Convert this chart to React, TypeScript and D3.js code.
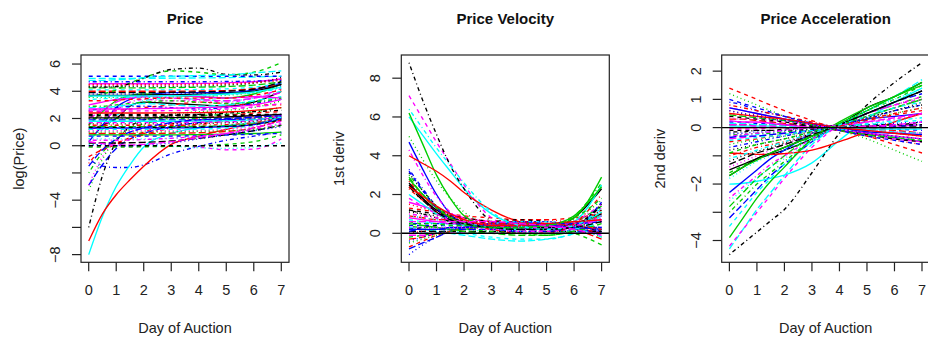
import React from "react";
import * as d3 from "d3";

// Sampling days shared by every curve
const dayGrid = [0, 0.5, 1, 1.5, 2, 3, 4, 5, 6, 7];
const dayTicks = [0, 1, 2, 3, 4, 5, 6, 7];

// log(Price) curves
const priceCurves: number[][] = [
  [1.2, 1.5, 2.0, 2.9, 3.2, 3.1, 3.0, 2.9, 3.2, 4.0],
  [2.5, 2.5, 2.6, 2.7, 2.8, 3.0, 3.2, 3.1, 3.0, 3.0],
  [-3.3, -1.0, 0.5, 1.3, 1.8, 2.3, 2.5, 2.6, 2.8, 3.3],
  [-1.0, -1.5, -1.6, -1.6, -1.4, -0.6, -0.05, 0.4, 0.7, 1.0],
  [4.95, 4.95, 4.95, 4.95, 4.95, 4.96, 4.98, 5.0, 5.05, 5.1],
  [4.55, 4.55, 4.55, 4.55, 4.55, 4.56, 4.58, 4.62, 4.7, 4.9],
  [2.3, 2.3, 2.3, 2.3, 2.3, 2.3, 2.3, 2.3, 2.3, 2.3],
  [4.45, 4.45, 4.45, 4.45, 4.45, 4.46, 4.48, 4.52, 4.6, 4.8],
  [-2.0, -0.5, 0.5, 1.2, 1.6, 2.0, 2.2, 2.3, 2.5, 2.8],
  [-2.9, -1.4, -0.2, 0.5, 0.9, 1.4, 1.7, 1.9, 2.1, 2.3],
  [-8.0, -5.2, -3.0, -1.4, -0.1, 0.9, 1.3, 1.5, 1.7, 1.9],
  [0.0, 0.0, 0.0, 0.0, 0.0, 0.0, -0.1, -0.3, -0.25, 0.5],
  [4.35, 4.35, 4.35, 4.35, 4.35, 4.36, 4.38, 4.45, 4.6, 5.0],
  [-1.3, -0.2, 0.2, 0.5, 0.8, 1.3, 1.6, 1.8, 2.0, 2.2],
  [4.25, 4.25, 4.25, 4.25, 4.25, 4.27, 4.3, 4.35, 4.45, 4.7],
  [0.3, 1.5, 2.8, 3.4, 3.7, 3.9, 3.9, 3.9, 4.1, 4.6],
  [4.1, 4.1, 4.1, 4.1, 4.1, 4.11, 4.13, 4.18, 4.3, 4.6],
  [-2.9, -0.8, 0.4, 1.0, 1.3, 1.6, 1.8, 2.0, 2.1, 2.2],
  [-6.0, -2.2, 0.3, 1.4, 1.9, 2.2, 2.3, 2.4, 2.5, 2.6],
  [4.0, 4.0, 4.0, 4.0, 4.0, 4.0, 4.02, 4.05, 4.2, 4.5],
  [1.5, 2.5, 3.3, 3.7, 3.8, 3.7, 3.6, 3.5, 3.8, 4.5],
  [5.1, 5.1, 5.1, 5.1, 5.1, 5.1, 5.1, 5.1, 5.1, 5.1],
  [0.1, 0.05, 0.0, 0.0, 0.0, -0.05, -0.15, -0.2, -0.1, 0.2],
  [1.0, 1.8, 2.6, 3.2, 3.4, 3.3, 3.3, 3.2, 3.5, 4.2],
  [3.9, 3.9, 3.9, 3.9, 3.9, 3.92, 3.95, 4.0, 4.15, 4.7],
  [-7.0, -5.0, -3.6, -2.5, -1.5, 0.1, 0.7, 1.2, 1.6, 2.0],
  [3.6, 3.8, 4.1, 4.6, 5.0, 5.5, 5.4, 5.2, 5.4, 6.1],
  [3.8, 3.8, 3.8, 3.8, 3.8, 3.81, 3.83, 3.88, 4.0, 4.4],
  [0.5, 1.2, 2.2, 2.9, 3.3, 3.5, 3.4, 3.3, 3.5, 4.0],
  [2.0, 2.6, 3.2, 3.5, 3.6, 3.5, 3.4, 3.3, 3.5, 3.9],
  [3.7, 3.7, 3.7, 3.7, 3.72, 3.75, 3.78, 3.85, 4.0, 4.5],
  [-0.8, -0.3, 0.1, 0.6, 1.0, 1.6, 2.0, 2.2, 2.4, 2.5],
  [3.55, 3.55, 3.55, 3.55, 3.56, 3.58, 3.62, 3.7, 3.9, 4.3],
  [2.6, 2.7, 2.8, 2.9, 2.9, 2.8, 2.7, 2.8, 3.1, 3.4],
  [2.8, 2.8, 2.9, 3.0, 3.1, 3.0, 2.9, 3.0, 3.3, 3.6],
  [3.0, 3.2, 3.4, 3.5, 3.6, 3.7, 3.6, 3.5, 3.6, 3.5],
  [2.2, 2.2, 2.2, 2.2, 2.2, 2.2, 2.2, 2.22, 2.25, 2.3],
  [2.1, 2.1, 2.1, 2.1, 2.1, 2.1, 2.1, 2.1, 2.12, 2.2],
  [2.0, 2.0, 2.0, 2.0, 2.0, 2.0, 2.0, 2.02, 2.05, 2.1],
  [1.9, 1.9, 1.9, 1.9, 1.9, 1.9, 1.9, 1.92, 1.95, 2.0],
  [1.8, 1.8, 1.8, 1.8, 1.8, 1.8, 1.81, 1.83, 1.9, 2.1],
  [1.7, 1.7, 1.7, 1.7, 1.7, 1.7, 1.72, 1.75, 1.85, 2.2],
  [1.6, 1.6, 1.6, 1.6, 1.6, 1.61, 1.63, 1.68, 1.8, 2.1],
  [1.5, 1.5, 1.5, 1.5, 1.5, 1.5, 1.52, 1.55, 1.7, 2.0],
  [1.4, 1.4, 1.4, 1.4, 1.4, 1.4, 1.42, 1.46, 1.6, 1.9],
  [1.3, 1.3, 1.3, 1.3, 1.3, 1.31, 1.33, 1.4, 1.55, 2.0],
  [1.2, 1.2, 1.2, 1.2, 1.2, 1.2, 1.22, 1.3, 1.5, 2.1],
  [1.1, 1.1, 1.1, 1.1, 1.1, 1.1, 1.12, 1.2, 1.4, 1.8],
  [4.3, 4.3, 4.35, 4.55, 4.95, 5.6, 5.7, 5.25, 5.2, 5.4],
  [0.9, 0.9, 0.9, 0.9, 0.9, 0.92, 0.95, 1.05, 1.3, 1.9],
  [0.8, 0.8, 0.8, 0.8, 0.8, 0.8, 0.82, 0.85, 0.9, 1.0],
  [0.7, 0.7, 0.7, 0.7, 0.7, 0.71, 0.73, 0.78, 0.85, 0.9],
  [0.5, 0.5, 0.5, 0.5, 0.5, 0.55, 0.65, 0.8, 1.1, 1.7],
  [0.4, 0.4, 0.4, 0.42, 0.45, 0.55, 0.7, 0.9, 1.2, 1.6],
  [0.2, 0.2, 0.2, 0.22, 0.25, 0.35, 0.55, 0.8, 1.1, 1.5],
  [2.4, 2.4, 2.4, 2.4, 2.4, 2.41, 2.43, 2.48, 2.6, 2.8],
  [-0.1, -0.1, -0.1, -0.1, -0.08, -0.05, 0.0, 0.1, 0.3, 0.8],
  [0.0, 0.1, 0.0, 0.0, 0.05, 0.2, 0.5, 0.8, 1.1, 1.4],
  [3.4, 3.45, 3.5, 3.55, 3.6, 3.65, 3.7, 3.75, 3.9, 4.2],
  [0.3, 0.15, 0.05, 0.05, 0.1, 0.3, 0.6, 0.9, 1.3, 1.8],
  [2.05, 2.05, 2.05, 2.05, 2.05, 2.06, 2.08, 2.12, 2.2, 2.3],
  [3.3, 3.3, 3.35, 3.4, 3.45, 3.5, 3.5, 3.5, 3.7, 4.1],
  [1.0, 1.0, 1.0, 1.0, 1.0, 1.02, 1.05, 1.1, 1.2, 1.5],
  [4.7, 4.7, 4.7, 4.7, 4.7, 4.7, 4.7, 4.72, 4.75, 4.8],
  [4.8, 4.8, 4.85, 4.9, 5.0, 5.1, 5.15, 5.2, 5.35, 5.5],
  [2.7, 2.7, 2.7, 2.7, 2.72, 2.75, 2.8, 2.85, 3.0, 3.4],
  [1.35, 1.35, 1.35, 1.35, 1.35, 1.36, 1.38, 1.42, 1.55, 1.9],
  [4.5, 4.5, 4.5, 4.5, 4.5, 4.5, 4.52, 4.56, 4.65, 4.9],
  [2.9, 2.9, 3.0, 3.1, 3.2, 3.3, 3.2, 3.1, 3.2, 3.5],
  [-1.5, -0.3, 0.5, 1.0, 1.3, 1.7, 1.9, 2.0, 2.1, 2.2],
  [3.65, 3.65, 3.65, 3.65, 3.66, 3.68, 3.72, 3.8, 3.95, 4.3],
  [2.55, 2.55, 2.55, 2.55, 2.56, 2.58, 2.62, 2.7, 2.85, 3.1],
];

// First derivative curves
const velocityCurves: number[][] = [
  [2.6, 1.8, 1.1, 0.6, 0.4, 0.3, 0.2, 0.2, 0.8, 2.3],
  [1.3, 1.2, 1.1, 1.0, 0.9, 0.8, 0.7, 0.7, 0.8, 1.0],
  [5.0, 3.8, 2.7, 1.8, 1.1, 0.4, 0.2, 0.3, 0.7, 1.7],
  [3.3, 2.3, 1.4, 0.8, 0.5, 0.4, 0.5, 0.5, 0.4, 0.3],
  [0.3, 0.2, 0.1, 0.0, -0.1, -0.3, -0.4, -0.3, 0.0, 0.8],
  [1.6, 1.4, 1.2, 1.0, 0.8, 0.6, 0.5, 0.5, 0.5, 0.6],
  [1.2, 1.1, 1.0, 0.9, 0.8, 0.6, 0.5, 0.4, 0.3, 0.2],
  [1.5, 1.3, 1.1, 0.9, 0.8, 0.6, 0.5, 0.4, 0.3, 0.1],
  [3.0, 2.2, 1.4, 0.9, 0.6, 0.3, 0.2, 0.3, 0.9, 2.6],
  [-0.8, -0.5, -0.2, 0.1, 0.3, 0.5, 0.6, 0.5, 0.3, -0.1],
  [6.0, 5.05, 4.1, 3.2, 2.3, 1.0, 0.4, 0.2, 0.6, 2.5],
  [7.1, 5.9, 4.7, 3.6, 2.5, 0.8, 0.3, 0.2, 0.4, 1.0],
  [1.1, 1.0, 0.9, 0.8, 0.7, 0.5, 0.4, 0.3, 0.4, 0.6],
  [2.3, 1.7, 1.2, 0.9, 0.7, 0.5, 0.4, 0.4, 0.6, 1.2],
  [2.9, 2.0, 1.3, 0.8, 0.5, 0.3, 0.2, 0.3, 0.6, 1.4],
  [4.7, 3.3, 2.0, 1.0, 0.5, 0.4, 0.6, 0.4, 0.2, 0.1],
  [0.2, 0.2, 0.1, 0.1, 0.0, -0.2, -0.3, -0.3, 0.0, 0.7],
  [0.9, 0.8, 0.7, 0.6, 0.5, 0.3, 0.2, 0.3, 0.6, 1.3],
  [8.8, 6.85, 5.1, 3.5, 2.3, 0.6, 0.1, 0.1, 0.4, 1.4],
  [-0.3, -0.2, 0.0, 0.1, 0.2, 0.4, 0.5, 0.4, 0.2, -0.3],
  [6.2, 4.6, 3.0, 1.8, 0.9, 0.3, 0.2, 0.3, 0.8, 2.9],
  [0.4, 0.4, 0.4, 0.4, 0.4, 0.3, 0.3, 0.3, 0.3, 0.3],
  [0.3, 0.3, 0.3, 0.3, 0.2, 0.1, 0.0, 0.0, 0.2, 0.8],
  [4.3, 3.0, 1.9, 1.1, 0.6, 0.2, 0.1, 0.2, 0.6, 1.5],
  [0.1, 0.1, 0.1, 0.1, 0.1, 0.1, 0.1, 0.1, 0.1, 0.1],
  [4.0, 3.6, 3.2, 2.7, 2.1, 1.2, 0.6, 0.4, 0.5, 0.9],
  [-0.2, -0.1, 0.0, 0.1, 0.2, 0.3, 0.3, 0.2, 0.0, -0.6],
  [-1.1, -0.6, -0.2, 0.1, 0.3, 0.5, 0.6, 0.6, 0.4, 0.2],
  [0.0, 0.0, 0.0, 0.0, 0.0, 0.0, 0.0, 0.0, 0.0, 0.0],
  [-0.1, -0.1, 0.0, 0.0, 0.0, 0.0, 0.0, 0.0, 0.0, 0.0],
  [2.5, 1.8, 1.2, 0.8, 0.6, 0.4, 0.3, 0.3, 0.5, 1.0],
  [-0.7, -0.4, -0.1, 0.1, 0.3, 0.5, 0.6, 0.5, 0.3, 0.0],
  [-0.5, -0.3, -0.1, 0.1, 0.2, 0.4, 0.5, 0.5, 0.3, -0.2],
  [0.5, 0.5, 0.5, 0.5, 0.5, 0.4, 0.3, 0.2, 0.1, 0.0],
  [0.6, 0.6, 0.5, 0.5, 0.4, 0.3, 0.2, 0.2, 0.4, 0.9],
  [0.8, 0.7, 0.6, 0.5, 0.5, 0.4, 0.4, 0.4, 0.5, 0.7],
  [0.2, 0.3, 0.4, 0.5, 0.5, 0.6, 0.7, 0.6, 0.4, 0.1],
  [0.0, 0.1, 0.2, 0.3, 0.4, 0.6, 0.7, 0.7, 0.5, 0.2],
  [0.4, 0.3, 0.3, 0.2, 0.2, 0.1, 0.0, -0.1, 0.2, 1.1],
  [0.1, 0.2, 0.2, 0.2, 0.2, 0.2, 0.1, 0.1, 0.3, 1.6],
  [2.0, 1.5, 1.0, 0.7, 0.5, 0.3, 0.2, 0.2, 0.4, 1.1],
  [1.8, 1.4, 1.0, 0.7, 0.5, 0.3, 0.1, 0.1, 0.3, 0.9],
  [3.1, 2.2, 1.4, 0.9, 0.6, 0.4, 0.3, 0.2, 0.4, 1.2],
  [2.7, 1.9, 1.3, 0.8, 0.5, 0.2, 0.0, 0.0, 0.5, 2.0],
  [0.5, 0.4, 0.3, 0.2, 0.1, 0.0, -0.1, -0.1, 0.1, 0.5],
  [0.2, 0.2, 0.2, 0.3, 0.3, 0.4, 0.4, 0.4, 0.3, 0.2],
  [0.7, 0.6, 0.5, 0.4, 0.4, 0.5, 0.6, 0.6, 0.3, -0.2],
  [0.3, 0.3, 0.3, 0.3, 0.3, 0.2, 0.2, 0.2, 0.4, 0.8],
  [1.2, 1.0, 0.8, 0.6, 0.5, 0.3, 0.2, 0.2, 0.4, 1.5],
  [0.9, 0.8, 0.7, 0.7, 0.6, 0.5, 0.5, 0.5, 0.4, 0.2],
  [2.8, 2.0, 1.3, 0.8, 0.5, 0.3, 0.3, 0.4, 0.9, 2.4],
  [3.2, 2.2, 1.3, 0.7, 0.4, 0.3, 0.4, 0.5, 0.5, 0.6],
  [0.9, 0.8, 0.7, 0.6, 0.5, 0.3, 0.1, 0.0, 0.2, 0.9],
  [1.0, 0.9, 0.8, 0.7, 0.6, 0.4, 0.3, 0.3, 0.4, 0.7],
  [2.4, 1.7, 1.1, 0.7, 0.5, 0.3, 0.2, 0.2, 0.3, 0.6],
  [2.4, 1.9, 1.4, 1.0, 0.7, 0.4, 0.4, 0.5, 0.6, 0.7],
  [0.6, 0.5, 0.5, 0.4, 0.4, 0.3, 0.3, 0.4, 0.8, 1.8],
  [-0.4, -0.2, 0.0, 0.2, 0.3, 0.5, 0.6, 0.6, 0.4, 0.1],
  [6.4, 5.4, 4.4, 3.5, 2.6, 1.1, 0.4, 0.2, 0.4, 1.3],
  [0.6, 0.6, 0.6, 0.6, 0.6, 0.6, 0.5, 0.4, 0.2, -0.1],
];

// Second derivative curves
const accelCurves: number[][] = [
  [-1.5, -1.3, -1.1, -0.95, -0.8, -0.4, 0.1, 0.7, 1.1, 1.6],
  [1.4, 1.2, 1.0, 0.8, 0.6, 0.25, -0.1, -0.3, -0.6, -0.9],
  [1.2, 1.0, 0.8, 0.6, 0.4, 0.1, -0.1, -0.4, -0.8, -1.2],
  [0.9, 0.8, 0.6, 0.5, 0.4, 0.15, -0.05, -0.2, -0.35, -0.5],
  [-4.3, -3.6, -2.9, -2.3, -1.7, -0.6, 0.1, 0.6, 1.1, 1.7],
  [0.7, 0.6, 0.5, 0.4, 0.3, 0.1, -0.1, -0.2, -0.4, -0.5],
  [-0.1, -0.1, -0.1, -0.1, -0.05, 0.0, 0.05, 0.1, 0.1, 0.2],
  [0.5, 0.45, 0.4, 0.3, 0.25, 0.1, 0.0, -0.1, -0.2, -0.3],
  [-3.0, -2.5, -2.0, -1.6, -1.2, -0.45, 0.1, 0.5, 0.8, 1.1],
  [-3.2, -2.7, -2.2, -1.7, -1.3, -0.5, 0.1, 0.5, 0.9, 1.2],
  [-2.0, -1.97, -1.9, -1.8, -1.68, -1.25, -0.45, 0.3, 0.9, 1.4],
  [-4.2, -3.6, -3.0, -2.4, -1.8, -0.7, 0.1, 0.5, 0.8, 1.0],
  [-0.8, -0.7, -0.6, -0.5, -0.4, -0.15, 0.1, 0.35, 0.6, 0.9],
  [0.8, 0.7, 0.6, 0.5, 0.4, 0.2, 0.0, -0.2, -0.3, -0.4],
  [-2.8, -2.3, -1.8, -1.4, -1.0, -0.3, 0.1, 0.4, 0.7, 1.0],
  [-2.3, -1.9, -1.5, -1.1, -0.8, -0.2, 0.1, 0.3, 0.4, 0.5],
  [-3.5, -2.9, -2.3, -1.8, -1.3, -0.5, 0.1, 0.5, 0.9, 1.3],
  [-1.4, -1.2, -1.0, -0.8, -0.6, -0.2, 0.1, 0.4, 0.7, 1.0],
  [-4.5, -4.1, -3.7, -3.3, -2.9, -1.6, -0.2, 0.8, 1.6, 2.3],
  [0.3, 0.3, 0.25, 0.2, 0.15, 0.1, 0.0, -0.05, -0.1, -0.2],
  [-3.9, -3.2, -2.5, -1.9, -1.4, -0.4, 0.2, 0.7, 1.1, 1.6],
  [0.2, 0.2, 0.15, 0.15, 0.1, 0.05, 0.0, 0.0, -0.05, -0.1],
  [-1.8, -1.5, -1.2, -1.0, -0.8, -0.35, 0.1, 0.6, 1.1, 1.5],
  [-2.5, -2.1, -1.7, -1.3, -1.0, -0.4, 0.1, 0.5, 0.8, 1.1],
  [0.1, 0.1, 0.1, 0.1, 0.1, 0.05, 0.05, 0.05, 0.05, 0.05],
  [-0.9, -0.92, -0.95, -0.95, -0.92, -0.8, -0.5, -0.15, 0.2, 0.5],
  [-1.6, -1.35, -1.1, -0.9, -0.7, -0.3, 0.1, 0.6, 1.0, 1.5],
  [-0.2, -0.2, -0.15, -0.15, -0.1, 0.0, 0.05, 0.1, 0.15, 0.2],
  [-0.3, -0.28, -0.25, -0.2, -0.15, -0.05, 0.05, 0.15, 0.25, 0.35],
  [-0.4, -0.35, -0.3, -0.25, -0.2, -0.1, 0.05, 0.2, 0.35, 0.5],
  [-1.7, -1.4, -1.1, -0.9, -0.7, -0.3, 0.1, 0.5, 0.9, 1.3],
  [-0.5, -0.45, -0.4, -0.3, -0.25, -0.1, 0.05, 0.25, 0.45, 0.6],
  [-0.6, -0.5, -0.45, -0.35, -0.3, -0.1, 0.05, 0.3, 0.5, 0.7],
  [-0.7, -0.6, -0.5, -0.4, -0.3, -0.1, 0.1, 0.3, 0.6, 0.8],
  [0.15, 0.15, 0.1, 0.1, 0.05, 0.0, -0.05, -0.1, -0.15, -0.2],
  [0.25, 0.2, 0.2, 0.15, 0.1, 0.0, -0.1, -0.2, -0.3, -0.4],
  [0.4, 0.35, 0.3, 0.25, 0.2, 0.05, -0.1, -0.25, -0.4, -0.5],
  [0.6, 0.5, 0.45, 0.35, 0.3, 0.1, -0.1, -0.3, -0.45, -0.6],
  [-0.25, -0.25, -0.2, -0.2, -0.15, -0.1, 0.0, 0.05, 0.1, 0.1],
  [-0.35, -0.3, -0.3, -0.25, -0.2, -0.1, 0.0, 0.0, 0.05, 0.1],
  [0.05, 0.05, 0.05, 0.05, 0.0, 0.0, 0.0, -0.05, -0.05, -0.05],
  [-0.05, -0.05, -0.05, 0.0, 0.0, 0.0, 0.0, 0.05, 0.05, 0.1],
  [-1.2, -1.0, -0.85, -0.7, -0.55, -0.2, 0.1, 0.35, 0.6, 0.8],
  [-1.0, -0.85, -0.7, -0.6, -0.5, -0.2, 0.05, 0.3, 0.5, 0.7],
  [0.45, 0.4, 0.35, 0.3, 0.25, 0.1, -0.1, -0.25, -0.35, -0.45],
  [0.7, 0.6, 0.5, 0.4, 0.3, 0.15, 0.0, -0.15, -0.2, -0.25],
  [-0.45, -0.4, -0.35, -0.3, -0.25, -0.1, 0.0, 0.1, 0.2, 0.25],
  [0.35, 0.3, 0.3, 0.25, 0.2, 0.1, 0.0, -0.1, -0.15, -0.2],
  [-0.15, -0.15, -0.1, -0.1, -0.1, -0.05, 0.0, 0.05, 0.1, 0.1],
  [0.0, 0.0, 0.0, 0.0, 0.0, 0.0, 0.0, 0.0, 0.0, 0.0],
  [-1.7, -1.4, -1.15, -0.9, -0.7, -0.3, 0.15, 0.6, 1.1, 1.5],
  [1.0, 0.85, 0.7, 0.55, 0.4, 0.15, -0.1, -0.3, -0.45, -0.6],
  [-2.6, -2.2, -1.8, -1.4, -1.1, -0.4, 0.1, 0.6, 1.0, 1.4],
  [-0.3, -0.25, -0.2, -0.15, -0.1, 0.0, 0.1, 0.2, 0.3, 0.5],
  [-1.3, -1.1, -0.9, -0.75, -0.6, -0.25, 0.1, 0.5, 0.9, 1.3],
  [0.5, 0.45, 0.4, 0.35, 0.3, 0.15, 0.0, -0.1, -0.2, -0.3],
  [-0.9, -0.75, -0.6, -0.5, -0.4, -0.15, 0.1, 0.4, 0.7, 1.0],
  [0.6, 0.5, 0.4, 0.3, 0.25, 0.1, -0.05, -0.2, -0.3, -0.4],
  [-1.1, -0.95, -0.8, -0.65, -0.5, -0.2, 0.1, 0.4, 0.7, 0.9],
  [0.1, 0.1, 0.05, 0.05, 0.0, 0.0, 0.0, 0.05, 0.1, 0.2],
];

const priceTicks = [-8, -6, -4, -2, 0, 2, 4, 6];
const priceTickLabels = ["-8", "", "-4", "", "0", "2", "4", "6"];
const velocityTicks = [0, 2, 4, 6, 8];
const velocityTickLabels = ["0", "2", "4", "6", "8"];
const accelTicks = [-4, -3, -2, -1, 0, 1, 2];
const accelTickLabels = ["-4", "", "-2", "", "0", "1", "2"];

// Base graphics palette and line types cycled over the curves
const palette = ["#000000", "#FF0000", "#00CD00", "#0000FF", "#00FFFF", "#FF00FF"];
const dashes = ["", "4,4", "1,3", "1,3,4,3", "7,3"];

const FONT = "'Liberation Sans', Arial, Helvetica, sans-serif";
const MINUS = "\u2212";
const AXIS_FS = 14.5;

type PanelProps = {
  id: string;
  left: number;
  title: string;
  ylab: string;
  curves: number[][];
  ticks: number[];
  tickLabels: string[];
  zeroDash: string;
};

function Panel({ id, left, title, ylab, curves, ticks, tickLabels, zeroDash }: PanelProps) {
  const top = 55;
  const width = 208;
  const height = 207.3;
  const bottom = top + height;
  const right = left + width;

  const pad = (lo: number, hi: number): [number, number] => {
    const d = (hi - lo) * 0.04;
    return [lo - d, hi + d];
  };
  const all = curves.flat();
  const x = d3.scaleLinear().domain(pad(0, 7)).range([left, right]);
  const y = d3
    .scaleLinear()
    .domain(pad(d3.min(all) as number, d3.max(all) as number))
    .range([bottom, top]);

  const line = d3
    .line<number>()
    .x((_, i) => x(dayGrid[i]))
    .y((v) => y(v))
    .curve(d3.curveMonotoneX);

  const fmt = (s: string) => s.replace("-", MINUS);
  const midY = (top + bottom) / 2;

  return (
    <g>
      <defs>
        <clipPath id={id}>
          <rect x={left} y={top} width={width} height={height} />
        </clipPath>
      </defs>
      <g clipPath={`url(#${id})`} fill="none" strokeWidth={1.35}>
        {curves.map((c, i) => (
          <path
            key={i}
            d={line(c) || ""}
            stroke={palette[i % palette.length]}
            strokeDasharray={dashes[i % dashes.length] || undefined}
          />
        ))}
        <line
          x1={left}
          x2={right}
          y1={y(0)}
          y2={y(0)}
          stroke="#000"
          strokeDasharray={zeroDash || undefined}
        />
      </g>
      <rect x={left} y={top} width={width} height={height} fill="none" stroke="#222" strokeWidth={1.2} />
      {dayTicks.map((t) => (
        <g key={`x${t}`}>
          <line x1={x(t)} x2={x(t)} y1={bottom} y2={bottom + 9} stroke="#222" strokeWidth={1.2} />
          <text x={x(t)} y={bottom + 33} textAnchor="middle" fontSize={AXIS_FS} fill="#222" fontFamily={FONT}>
            {t}
          </text>
        </g>
      ))}
      {ticks.map((t, i) => (
        <g key={`y${t}`}>
          <line x1={left - 9} x2={left} y1={y(t)} y2={y(t)} stroke="#222" strokeWidth={1.2} />
          {tickLabels[i] && (
            <text
              transform={`translate(${left - 26},${y(t)}) rotate(-90)`}
              textAnchor="middle"
              dominantBaseline="central"
              fontSize={AXIS_FS}
              fill="#222"
              fontFamily={FONT}
            >
              {fmt(tickLabels[i])}
            </text>
          )}
        </g>
      ))}
      <text x={(left + right) / 2} y={23.5} textAnchor="middle" fontSize={15} fontWeight="bold" fill="#111" fontFamily={FONT}>
        {title}
      </text>
      <text x={(left + right) / 2} y={332.5} textAnchor="middle" fontSize={AXIS_FS} fill="#222" fontFamily={FONT}>
        Day of Auction
      </text>
      <text
        transform={`translate(${left - 62},${midY}) rotate(-90)`}
        textAnchor="middle"
        dominantBaseline="central"
        fontSize={AXIS_FS}
        fill="#222"
        fontFamily={FONT}
      >
        {ylab}
      </text>
    </g>
  );
}

export default function App() {
  return (
    <svg
      width={928}
      height={341}
      style={{ position: "absolute", left: 0, top: 0, background: "#fff" }}
    >
      <rect width={928} height={341} fill="#fff" />
      <Panel id="clipPrice" left={81} title="Price" ylab="log(Price)" curves={priceCurves} ticks={priceTicks} tickLabels={priceTickLabels} zeroDash="4,4" />
      <Panel id="clipVel" left={401.3} title="Price Velocity" ylab="1st deriv" curves={velocityCurves} ticks={velocityTicks} tickLabels={velocityTickLabels} zeroDash="" />
      <Panel id="clipAcc" left={721.7} title="Price Acceleration" ylab="2nd deriv" curves={accelCurves} ticks={accelTicks} tickLabels={accelTickLabels} zeroDash="" />
    </svg>
  );
}
